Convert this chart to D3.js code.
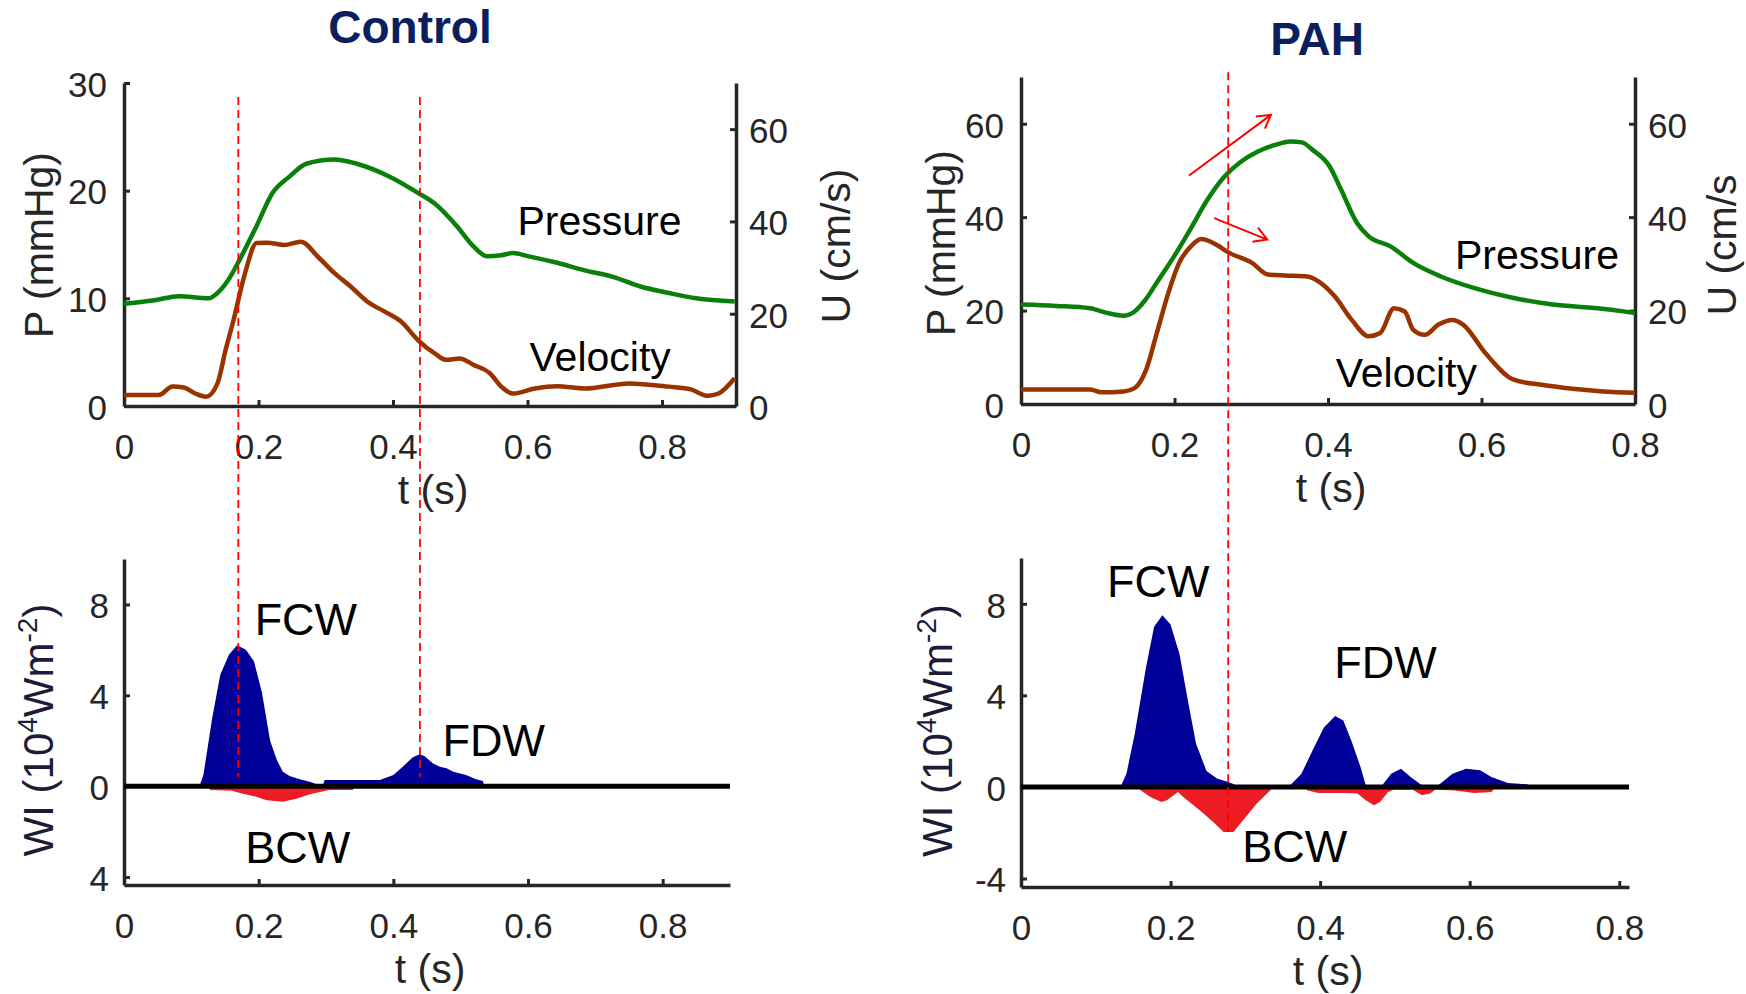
<!DOCTYPE html>
<html>
<head>
<meta charset="utf-8">
<script src="https://cdn.jsdelivr.net/npm/d3@7"></script>
<style>
  html, body { margin: 0; padding: 0; background: #fff; }
  svg { display: block; font-family: "Liberation Sans", Arial, Helvetica, sans-serif; }
</style>
</head>
<body>
<svg id="fig" width="1746" height="994"></svg>
<script>
// ---------- tick values and labels ----------
const timeTicks = [0, 0.2, 0.4, 0.6, 0.8];
const controlPressureTicks = [0, 10, 20, 30];
const pahPressureTicks = [0, 20, 40, 60];
const velocityTicks = [0, 20, 40, 60];
const wiTicks = [-4, 0, 4, 8];
const controlWiTickLabels = ["4", "0", "4", "8"];
const pahWiTickLabels = ["-4", "0", "4", "8"];

// ---------- Control: pressure P (mmHg) and velocity U (cm/s), [t (s), value] ----------
const controlPressure = [
  [0,9.5],[0.048,9.85],[0.081,10.2],[0.126,10.0],[0.139,10.5],[0.155,11.7],[0.172,13.6],
  [0.197,16.7],[0.221,19.8],[0.246,21.3],[0.271,22.5],[0.313,22.9],[0.346,22.5],[0.395,21.3],
  [0.437,19.8],[0.462,18.8],[0.495,16.7],[0.520,14.8],[0.540,13.9],[0.561,14.0],[0.578,14.2],
  [0.602,13.9],[0.644,13.3],[0.685,12.6],[0.727,12.0],[0.768,11.1],[0.810,10.5],[0.851,10.0],
  [0.908,9.7]
];
const controlVelocity = [
  [0,2.4],[0.052,2.4],[0.072,4.2],[0.089,4.0],[0.106,2.7],[0.122,2.0],[0.139,4.9],[0.151,12.1],
  [0.163,18.7],[0.180,28.8],[0.197,35.3],[0.213,35.4],[0.238,34.9],[0.263,35.6],[0.288,32.4],
  [0.313,28.8],[0.337,25.9],[0.362,22.6],[0.387,20.5],[0.412,18.3],[0.437,14.3],[0.462,11.4],
  [0.479,10.0],[0.499,10.3],[0.520,8.9],[0.544,7.1],[0.561,4.2],[0.578,2.7],[0.611,3.8],
  [0.644,4.3],[0.685,3.8],[0.751,4.9],[0.810,4.2],[0.843,3.6],[0.868,2.2],[0.884,2.7],[0.908,6.0]
];
// Control wave intensity WI (10^4 W m^-2): forward (positive) and backward (negative)
const controlWiForward = [
  [0.112,0],[0.118,0.5],[0.131,3.0],[0.143,4.9],[0.156,5.8],[0.168,6.2],[0.181,6.0],[0.193,5.5],
  [0.205,4.1],[0.217,2.0],[0.227,1.15],[0.236,0.64],[0.246,0.45],[0.261,0.3],[0.276,0.2],
  [0.285,0.1],[0.296,0.1],[0.298,0.27],[0.380,0.27],[0.400,0.49],[0.414,0.86],[0.429,1.27],
  [0.439,1.4],[0.446,1.33],[0.459,1.0],[0.469,0.86],[0.479,0.79],[0.489,0.64],[0.508,0.49],
  [0.523,0.3],[0.533,0.23],[0.535,0]
];
const controlWiBackward = [
  [0.124,0],[0.128,-0.17],[0.160,-0.2],[0.175,-0.32],[0.195,-0.45],[0.212,-0.62],[0.236,-0.68],
  [0.256,-0.55],[0.276,-0.36],[0.296,-0.22],[0.305,-0.17],[0.340,-0.17],[0.342,0]
];

// ---------- PAH ----------
const pahPressure = [
  [0,21.3],[0.046,21.0],[0.090,20.5],[0.112,19.5],[0.134,18.9],[0.148,19.8],[0.163,22.5],
  [0.177,26.0],[0.199,31.5],[0.221,37.5],[0.242,43.5],[0.264,48.5],[0.286,51.8],[0.308,54.0],
  [0.330,55.4],[0.351,56.2],[0.366,56.0],[0.380,54.4],[0.402,50.9],[0.417,45.9],[0.438,38.7],
  [0.453,35.9],[0.482,33.7],[0.511,30.2],[0.547,27.3],[0.591,24.8],[0.642,22.7],[0.693,21.3],
  [0.751,20.5],[0.800,19.5]
];
const pahVelocity = [
  [0,3.1],[0.090,3.1],[0.105,2.5],[0.134,2.7],[0.148,3.4],[0.163,7.3],[0.177,15.2],[0.192,23.8],
  [0.206,30.2],[0.221,33.7],[0.235,35.3],[0.250,34.5],[0.272,32.3],[0.301,30.2],[0.322,27.7],
  [0.344,27.5],[0.373,27.3],[0.388,26.2],[0.409,23.0],[0.431,18.0],[0.453,14.5],[0.468,15.2],
  [0.486,20.5],[0.500,19.8],[0.511,15.9],[0.526,14.8],[0.544,17.0],[0.562,18.0],[0.576,17.0],
  [0.605,10.9],[0.642,5.2],[0.678,4.1],[0.722,3.2],[0.758,2.7],[0.800,2.4]
];
const pahWiForward = [
  [0.133,0],[0.141,0.58],[0.152,2.3],[0.167,5.2],[0.178,7.0],[0.189,7.5],[0.200,7.1],[0.212,5.8],
  [0.223,3.8],[0.234,1.9],[0.248,0.7],[0.262,0.37],[0.275,0.24],[0.285,0.12],[0.287,0],
  [0.355,0],[0.360,0.07],[0.375,0.58],[0.390,1.6],[0.405,2.6],[0.420,3.1],[0.431,2.9],[0.442,2.0],
  [0.454,0.87],[0.461,0.07],[0.483,0.07],[0.495,0.58],[0.508,0.8],[0.521,0.44],[0.536,0.07],
  [0.558,0.07],[0.577,0.58],[0.595,0.8],[0.614,0.73],[0.629,0.44],[0.651,0.17],[0.677,0.12],[0.679,0]
];
const pahWiBackward = [
  [0.155,0],[0.158,-0.1],[0.173,-0.44],[0.188,-0.66],[0.195,-0.58],[0.210,-0.22],[0.217,-0.44],
  [0.239,-1.02],[0.257,-1.53],[0.271,-1.97],[0.284,-1.97],[0.297,-1.45],[0.315,-0.73],
  [0.329,-0.29],[0.338,0],
  [0.380,0],[0.383,-0.15],[0.398,-0.26],[0.435,-0.26],[0.450,-0.29],[0.461,-0.58],[0.472,-0.80],
  [0.480,-0.66],[0.491,-0.22],[0.498,-0.12],[0.524,-0.12],[0.536,-0.36],[0.547,-0.29],
  [0.554,-0.12],[0.580,-0.15],[0.606,-0.26],[0.629,-0.22],[0.635,0]
];

// times (s) of the dashed guide lines
const controlGuides = [0.17, 0.44];
const pahGuides = [0.27];

// ---------- styling ----------
const AXIS = "#262626", TEXT = "#262626";
const GREEN = "#0a800a", BROWN = "#993300", BLUE = "#000099", RED = "#ed1c24";
const TICK_FS = 35, LABEL_FS = 41;

const svg = d3.select("#fig");

// pixel boxes of the four axes
const panels = {
  control: {
    title: "Control", titleX: 410, titleY: 43,
    top: { x0: 124, x1: 736, yBase: 406, yTop: 83, tMax: 0.91, pMax: 30, uMax: 70,
           pTicks: controlPressureTicks, pLabX: 53, pLabY: 245, uLabX: 850, uLabY: 246,
           uLabel: "U (cm/s)" },
    bot: { x0: 124, x1: 730, yBase: 885, yTop: 559, tMax: 0.9, wMin: -4.35, wMax: 10,
           wLabels: controlWiTickLabels, wLabX: 53 },
    pressure: controlPressure, velocity: controlVelocity,
    fwd: controlWiForward, bwd: controlWiBackward,
    pLabel: [0.585, 15.9], vLabel: [0.603, 7.6],
    fcw: [0.194, 6.65], fdw: [0.473, 1.33], bcw: [0.18, -3.38],
    guides: controlGuides, guideTopP: 28.7, guideBottomWi: 0.4
  },
  pah: {
    title: "PAH", titleX: 1317, titleY: 55,
    top: { x0: 1021, x1: 1635, yBase: 404, yTop: 77, tMax: 0.8, pMax: 70, uMax: 70,
           pTicks: pahPressureTicks, pLabX: 955, pLabY: 243, uLabX: 1736, uLabY: 245,
           uLabel: "U (cm/s" },
    bot: { x0: 1021, x1: 1629, yBase: 887, yTop: 558, tMax: 0.813, wMin: -4.37, wMax: 10,
           wLabels: pahWiTickLabels, wLabX: 952 },
    pressure: pahPressure, velocity: pahVelocity,
    fwd: pahWiForward, bwd: pahWiBackward,
    pLabel: [0.5655, 29.0], vLabel: [0.410, 3.7],
    fcw: [0.115, 8.28], fdw: [0.419, 4.75], bcw: [0.296, -3.29],
    guides: pahGuides, guideTopP: 71, guideBottomWi: -1.97,
    arrows: [ // in (t, P) units
      { from: [0.219, 48.9], to: [0.3256, 61.9] },
      { from: [0.2517, 39.8], to: [0.3208, 35.2] }
    ]
  }
};

function styleAxis(g) {
  g.attr("font-family", null).attr("font-size", null);
  g.select(".domain").attr("stroke", AXIS).attr("stroke-width", 3.5);
  g.selectAll(".tick line").attr("stroke", AXIS).attr("stroke-width", 3);
  g.selectAll(".tick text").attr("fill", TEXT).attr("font-size", TICK_FS);
}

function rotatedLabel(x, y, text, opts = {}) {
  return svg.append("text")
    .attr("transform", `translate(${x},${y}) rotate(-90)`)
    .attr("text-anchor", opts.anchor || "middle")
    .attr("font-size", LABEL_FS)
    .attr("fill", opts.fill || TEXT)
    .text(text);
}

function drawPanel(p) {
  const T = p.top, B = p.bot;

  // ---- scales ----
  const xT = d3.scaleLinear().domain([0, T.tMax]).range([T.x0, T.x1]);
  const yP = d3.scaleLinear().domain([0, T.pMax]).range([T.yBase, T.yTop]);
  const yU = d3.scaleLinear().domain([0, T.uMax]).range([T.yBase, T.yTop]);
  const xB = d3.scaleLinear().domain([0, B.tMax]).range([B.x0, B.x1]);
  const yW = d3.scaleLinear().domain([B.wMin, B.wMax]).range([B.yBase, B.yTop]);

  // ---- title ----
  svg.append("text")
    .attr("x", p.titleX).attr("y", p.titleY)
    .attr("text-anchor", "middle")
    .attr("font-size", 46).attr("font-weight", "bold")
    .attr("fill", "#0b1f5e")
    .text(p.title);

  // ---- upper axes: pressure (left), velocity (right), time (bottom) ----
  const gxT = svg.append("g").attr("transform", `translate(0,${T.yBase})`)
    .call(d3.axisBottom(xT).tickValues(timeTicks).tickSizeInner(-6).tickSizeOuter(0)
      .tickFormat(d => d === 0 ? "0" : d3.format(".1f")(d)));
  styleAxis(gxT);
  gxT.selectAll(".tick text").attr("dy", null).attr("y", 53);

  const gyP = svg.append("g").attr("transform", `translate(${T.x0},0)`)
    .call(d3.axisLeft(yP).tickValues(T.pTicks).tickSizeInner(-6).tickSizeOuter(0).tickPadding(17));
  styleAxis(gyP);
  gyP.selectAll(".tick text").attr("dy", "0.38em");

  const gyU = svg.append("g").attr("transform", `translate(${T.x1},0)`)
    .call(d3.axisRight(yU).tickValues(velocityTicks).tickSizeInner(-6).tickSizeOuter(0).tickPadding(13));
  styleAxis(gyU);
  gyU.selectAll(".tick text").attr("dy", "0.38em");

  rotatedLabel(T.pLabX, T.pLabY, "P (mmHg)");
  rotatedLabel(T.uLabX, T.uLabY, T.uLabel);
  svg.append("text")
    .attr("x", (T.x0 + T.x1) / 2 + 3).attr("y", T.yBase + 98)
    .attr("text-anchor", "middle").attr("font-size", LABEL_FS).attr("fill", TEXT)
    .text("t (s)");

  // ---- pressure and velocity traces ----
  const lineP = d3.line().x(d => xT(d[0])).y(d => yP(d[1])).curve(d3.curveMonotoneX);
  const lineU = d3.line().x(d => xT(d[0])).y(d => yU(d[1])).curve(d3.curveMonotoneX);
  svg.append("path").datum(p.pressure).attr("d", lineP)
    .attr("fill", "none").attr("stroke", GREEN).attr("stroke-width", 4.5)
    .attr("stroke-linejoin", "round");
  svg.append("path").datum(p.velocity).attr("d", lineU)
    .attr("fill", "none").attr("stroke", BROWN).attr("stroke-width", 4.5)
    .attr("stroke-linejoin", "round");

  svg.append("text").attr("x", xT(p.pLabel[0])).attr("y", yP(p.pLabel[1]))
    .attr("font-size", LABEL_FS).attr("fill", "#000").text("Pressure");
  svg.append("text").attr("x", xT(p.vLabel[0])).attr("y", yU(p.vLabel[1]))
    .attr("font-size", LABEL_FS).attr("fill", "#000").text("Velocity");

  // ---- red arrows ----
  (p.arrows || []).forEach(a => {
    const x1 = xT(a.from[0]), y1 = yP(a.from[1]);
    const x2 = xT(a.to[0]), y2 = yP(a.to[1]);
    const ang = Math.atan2(y2 - y1, x2 - x1), len = 15, spread = Math.PI / 6;
    const w1 = [x2 - len * Math.cos(ang - spread), y2 - len * Math.sin(ang - spread)];
    const w2 = [x2 - len * Math.cos(ang + spread), y2 - len * Math.sin(ang + spread)];
    svg.append("path")
      .attr("d", `M${x1},${y1}L${x2},${y2}M${w1[0]},${w1[1]}L${x2},${y2}L${w2[0]},${w2[1]}`)
      .attr("fill", "none").attr("stroke", "#ff0000").attr("stroke-width", 2);
  });

  // ---- lower axes: wave intensity ----
  const gxB = svg.append("g").attr("transform", `translate(0,${B.yBase})`)
    .call(d3.axisBottom(xB).tickValues(timeTicks).tickSizeInner(-6).tickSizeOuter(0)
      .tickFormat(d => d === 0 ? "0" : d3.format(".1f")(d)));
  styleAxis(gxB);
  gxB.selectAll(".tick text").attr("dy", null).attr("y", 53);

  const gyW = svg.append("g").attr("transform", `translate(${B.x0},0)`)
    .call(d3.axisLeft(yW).tickValues(wiTicks).tickSizeInner(-6).tickSizeOuter(0).tickPadding(15)
      .tickFormat((d, i) => B.wLabels[i]));
  styleAxis(gyW);
  gyW.selectAll(".tick text").attr("dy", "0.38em");

  // WI (10^4 Wm^-2) label with superscripts
  const wl = svg.append("text")
    .attr("transform", `translate(${B.wLabX},${(B.yBase + B.yTop) / 2 + 8}) rotate(-90)`)
    .attr("text-anchor", "middle").attr("font-size", 42).attr("fill", "#1c1c3a");
  wl.append("tspan").text("WI (10");
  wl.append("tspan").attr("font-size", 28).attr("dy", -16).text("4");
  wl.append("tspan").attr("dy", 16).text("Wm");
  wl.append("tspan").attr("font-size", 28).attr("dy", -16).text("-2");
  wl.append("tspan").attr("dy", 16).text(")");

  svg.append("text")
    .attr("x", (B.x0 + B.x1) / 2 + 3).attr("y", B.yBase + 98)
    .attr("text-anchor", "middle").attr("font-size", LABEL_FS).attr("fill", TEXT)
    .text("t (s)");

  // ---- wave intensity areas ----
  const area = d3.area().x(d => xB(d[0])).y0(yW(0)).y1(d => yW(d[1]));
  svg.append("path").datum(p.fwd).attr("d", area).attr("fill", BLUE);
  svg.append("path").datum(p.bwd).attr("d", area).attr("fill", RED);

  // zero line
  svg.append("line")
    .attr("x1", xB(0)).attr("x2", xB(B.tMax))
    .attr("y1", yW(0)).attr("y2", yW(0))
    .attr("stroke", "#000").attr("stroke-width", 5);

  // wave labels
  [["FCW", p.fcw], ["FDW", p.fdw], ["BCW", p.bcw]].forEach(([txt, pos]) => {
    svg.append("text").attr("x", xB(pos[0])).attr("y", yW(pos[1]))
      .attr("font-size", 45).attr("fill", "#000").text(txt);
  });

  // ---- dashed guide lines through both axes ----
  p.guides.forEach(t => {
    svg.append("line")
      .attr("x1", xT(t)).attr("x2", xT(t))
      .attr("y1", yP(p.guideTopP)).attr("y2", yW(p.guideBottomWi))
      .attr("stroke", "#ff0000").attr("stroke-width", 1.8)
      .attr("stroke-dasharray", "8,5");
  });
}

drawPanel(panels.control);
drawPanel(panels.pah);
</script>
</body>
</html>
